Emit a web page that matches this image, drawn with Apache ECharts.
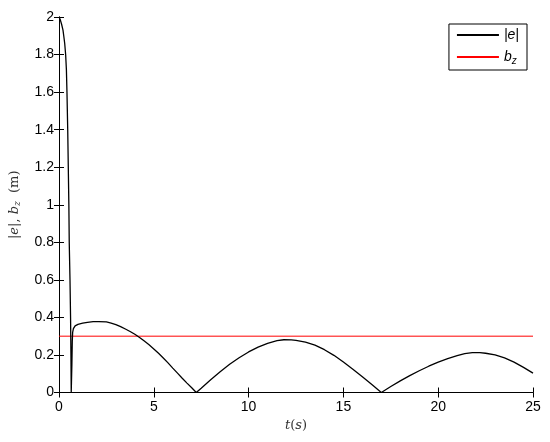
<!DOCTYPE html>
<html>
<head>
<meta charset="utf-8">
<script src="https://cdn.jsdelivr.net/npm/echarts@6/dist/echarts.min.js"></script>
<style>html,body{margin:0;padding:0;background:#fff}#c{width:550px;height:442px}</style>
</head>
<body>
<div id="c"></div>
<script>
// |e| error magnitude: [t, value]
var eTime = [0, 0.03, 0.07, 0.1, 0.14, 0.17, 0.21, 0.25, 0.3, 0.35, 0.39, 0.42, 0.46, 0.49, 0.52, 0.54, 0.58, 0.61, 0.63, 0.645,
  0.66, 0.68, 0.7, 0.72, 0.76, 0.85, 1.0, 1.25, 1.5, 1.8, 2.1, 2.5, 2.75, 3.0, 3.25, 3.5, 3.75, 4.0, 4.25, 4.5, 4.75,
  5.0, 5.25, 5.5, 5.75, 6.0, 6.25, 6.5, 6.75, 7.0, 7.24,
  7.5, 8, 8.5, 9, 9.5, 10, 10.5, 11, 11.5, 11.86, 12.25, 12.5, 13, 13.5, 14, 14.5, 15, 15.5, 16, 16.5, 17,
  17.5, 18, 18.5, 19, 19.5, 20, 20.5, 21, 21.4, 21.8, 22.2, 22.5, 23, 23.5, 24, 24.5, 25];
var eValue = [2, 1.995, 1.985, 1.975, 1.96, 1.95, 1.93, 1.9, 1.86, 1.8, 1.72, 1.6, 1.4, 1.2, 1.0, 0.8, 0.6, 0.4, 0.2, 0,
  0, 0.15, 0.27, 0.32, 0.34, 0.355, 0.363, 0.369, 0.374, 0.377, 0.378, 0.376, 0.37, 0.362, 0.351, 0.338, 0.325, 0.31, 0.293, 0.274, 0.254,
  0.232, 0.209, 0.184, 0.158, 0.13, 0.103, 0.076, 0.05, 0.025, 0,
  0.023, 0.068, 0.11, 0.15, 0.185, 0.216, 0.242, 0.262, 0.276, 0.281, 0.28, 0.278, 0.268, 0.252, 0.228, 0.198, 0.162, 0.124, 0.084, 0.043, 0,
  0.032, 0.062, 0.09, 0.116, 0.14, 0.162, 0.181, 0.197, 0.207, 0.212, 0.212, 0.209, 0.2, 0.184, 0.162, 0.134, 0.103];
// b_z bound
var bTime = [0, 25];
var bValue = [0.3, 0.3];
var xTicks = [0, 5, 10, 15, 20, 25];
var yMin = 0, yMax = 2, yStep = 0.2;

function pairs(a, b) { return a.map(function (v, i) { return [v, b[i]]; }); }

var FONT = 'Liberation Sans';
var chart = echarts.init(document.getElementById('c'), null, {renderer: 'canvas'});
var axisCommon = {
  axisLine: {show: true, lineStyle: {color: '#000', width: 1}},
  axisTick: {show: true, inside: true, length: 5, lineStyle: {color: '#000'}},
  splitLine: {show: false}
};
chart.setOption({
  animation: false,
  backgroundColor: '#fff',
  grid: {left: 57, right: 17, top: 17, bottom: 49.5, containLabel: false},
  legend: {
    right: 23, top: 24, orient: 'vertical',
    borderColor: '#000', borderWidth: 1, padding: [4, 8, 4, 8],
    itemWidth: 42, itemHeight: 2, itemGap: 8, icon: 'rect',
    textStyle: {fontFamily: FONT, fontSize: 14, fontStyle: 'italic', color: '#000',
      rich: {
        m: {fontFamily: FONT, fontSize: 14, fontStyle: 'italic', color: '#000'},
        s: {fontFamily: FONT, fontSize: 10, fontStyle: 'italic', color: '#000', verticalAlign: 'bottom', padding: [8, 0, 0, 0]}
      }},
    formatter: function (n) { return n === 'e' ? '{m||e|}' : '{m|b}{s|z}'; },
    data: [{name: 'e', itemStyle: {color: '#000'}}, {name: 'bz', itemStyle: {color: '#ff0000'}}]
  },
  xAxis: [
    Object.assign({
      type: 'value', min: 0, max: 25, interval: 5, position: 'bottom',
      axisLabel: {color: '#000', fontFamily: FONT, fontSize: 14, margin: 8,
        formatter: function (v) { return xTicks.indexOf(v) >= 0 ? String(v) : ''; }},
      name: '{i|t}{n|(}{i|s}{n|)}', nameLocation: 'middle', nameGap: 25,
      nameTextStyle: {rich: {
        i: {fontFamily: 'DejaVu Serif', fontStyle: 'italic', fontSize: 13, color: '#333'},
        n: {fontFamily: 'DejaVu Serif', fontSize: 13, color: '#333'}}}
    }, axisCommon),
    Object.assign({
      type: 'value', min: 0, max: 25, interval: 5, position: 'top',
      axisLabel: {show: false}
    }, axisCommon)
  ],
  yAxis: [
    Object.assign({
      type: 'value', min: yMin, max: yMax, interval: yStep, position: 'left',
      axisLabel: {color: '#000', fontFamily: FONT, fontSize: 14, margin: 5,
        formatter: function (v) { return String(Math.round(v * 10) / 10); }},
      name: '{n||}{i|e}{n||, }{i|b}{s|z}{n|  (m)}', nameLocation: 'middle', nameGap: 37, nameRotate: 90,
      nameTextStyle: {rich: {
        i: {fontFamily: 'DejaVu Serif', fontStyle: 'italic', fontSize: 13, color: '#333'},
        n: {fontFamily: 'DejaVu Serif', fontSize: 13, color: '#333'},
        s: {fontFamily: 'DejaVu Serif', fontStyle: 'italic', fontSize: 9, color: '#333', verticalAlign: 'bottom', padding: [6, 0, 0, 0]}}}
    }, axisCommon),
    Object.assign({
      type: 'value', min: yMin, max: yMax, interval: yStep, position: 'right',
      axisLabel: {show: false}
    }, axisCommon)
  ],
  series: [
    {name: 'e', type: 'line', data: pairs(eTime, eValue), showSymbol: false, symbol: 'none',
      lineStyle: {color: '#000', width: 1.3}, itemStyle: {color: '#000'}, z: 3},
    {name: 'bz', type: 'line', data: pairs(bTime, bValue), showSymbol: false, symbol: 'none',
      lineStyle: {color: '#ff0000', width: 1}, itemStyle: {color: '#ff0000'}, z: 2}
  ]
});
</script>
</body>
</html>
